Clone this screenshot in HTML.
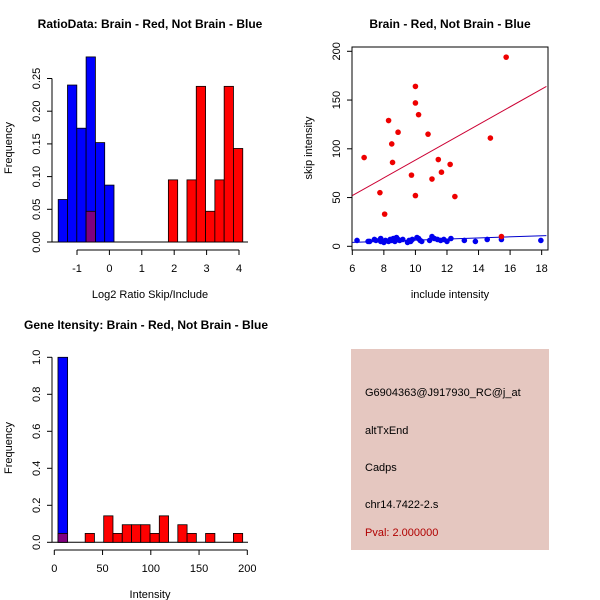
<!DOCTYPE html>
<html><head><meta charset="utf-8"><style>
body{margin:0;background:#fff}
svg{display:block;font-family:"Liberation Sans",sans-serif}
</style></head><body>
<svg id="c" width="600" height="600" xmlns="http://www.w3.org/2000/svg">
<rect width="600" height="600" fill="#fff"/>
<text x="150" y="28" font-size="12" font-weight="bold" text-anchor="middle">RatioData: Brain - Red, Not Brain - Blue</text>
<text x="450" y="28" font-size="12" font-weight="bold" text-anchor="middle">Brain - Red, Not Brain - Blue</text>
<text x="146" y="329" font-size="12" font-weight="bold" text-anchor="middle">Gene Itensity: Brain - Red, Not Brain - Blue</text>
<g id="p1"></g>
<g id="p2"></g>
<g id="p3"></g>
<g>
<rect x="351" y="349" width="198" height="201" fill="#e5c7c0"/>
<g font-size="11">
<text x="365" y="396">G6904363@J917930_RC@j_at</text>
<text x="365" y="434">altTxEnd</text>
<text x="365" y="471">Cadps</text>
<text x="365" y="508">chr14.7422-2.s</text>
<text x="365" y="536" fill="#b00000">Pval: 2.000000</text>
</g></g>
</svg>
<script>
// Panel 1 data
const ratioBlueStart = -1.58, ratioBinWidth = 0.287;
const ratioBlue = [0.065,0.24,0.174,0.283,0.152,0.087];
const ratioRedStart = 1.82;
const ratioRed = [0.095,0,0.095,0.238,0.047,0.095,0.238,0.143];
const ratioPurpleBin = 3, ratioPurple = 0.047;
const ratioXTicks = [-1,0,1,2,3,4];
const ratioYTicks = ["0.00","0.05","0.10","0.15","0.20","0.25"];
// Panel 2 data
const redX = [6.75,7.75,8.05,8.3,8.5,8.55,8.9,9.75,10,10,10,10.2,10.8,11.05,11.45,11.65,12.2,12.5,14.75,15.75,15.45];
const redY = [91,55,33,129,105,86,117,73,164,147,52,135,115,69,89,76,84,51,111,194,10];
const blueX = [6.3,7,7.1,7.4,7.5,7.8,7.8,8,8.1,8.3,8.4,8.5,8.6,8.7,8.8,8.9,9,9.2,9.5,9.6,9.7,9.8,10.1,10.2,10.3,10.4,10.9,11.05,11.2,11.4,11.6,11.8,12,12.25,13.1,13.8,14.55,15.45,17.95];
const blueY = [6,5,5,7,6,8,5,4,6,5,7,6,8,5,9,7,6,7,4,6,5,7,9,8,6,5,6,10,8,7,6,7,5,8,6,5,7,7,6];
const redLine = [[6,52],[18.3,164]];
const blueLine = [[6,4],[18.3,11]];
const scatXTicks = [6,8,10,12,14,16,18];
const scatYTicks = [0,50,100,150,200];
// Panel 3 data
const intBlueStart = 3.8, intBlueWidth = 10, intBlue = [1.0], intPurple = 0.048;
const intRedStart = 32, intRedWidth = 9.6;
const intRed = [0.048,0,0.143,0.048,0.095,0.095,0.095,0.048,0.143,0,0.095,0.048,0,0.048,0,0,0.048];
const intXTicks = [0,50,100,150,200];
const intYTicks = ["0.0","0.2","0.4","0.6","0.8","1.0"];

const NS="http://www.w3.org/2000/svg";
function mk(p,t,a){const e=document.createElementNS(NS,t);for(const k in a)e.setAttribute(k,a[k]);p.appendChild(e);return e;}
function lbl(p,x,y,s,rot,anchor){const t=mk(p,'text',{x:x,y:y,'font-size':11,'text-anchor':anchor||'middle'});if(rot)t.setAttribute('transform',`rotate(-90 ${x} ${y})`);t.textContent=s;return t;}

// Panel 1
(function(){
const g=document.getElementById('p1');
const X=v=>109.4+v*32.4, Y=v=>242-v*654;
mk(g,'line',{x1:52,x2:248,y1:242,y2:242,stroke:'#000'});
ratioBlue.forEach((h,i)=>{const x0=X(ratioBlueStart+i*ratioBinWidth),x1=X(ratioBlueStart+(i+1)*ratioBinWidth);
const r=mk(g,'rect',{x:x0,y:Y(h),width:x1-x0,height:242-Y(h),fill:'#0000ff',stroke:'#000','stroke-width':0.8});
});
ratioRed.forEach((h,i)=>{if(!h)return;const x0=X(ratioRedStart+i*ratioBinWidth),x1=X(ratioRedStart+(i+1)*ratioBinWidth);
const r=mk(g,'rect',{x:x0,y:Y(h),width:x1-x0,height:242-Y(h),fill:'#ff0000',stroke:'#000','stroke-width':0.8});
});
{const x0=X(ratioBlueStart+ratioPurpleBin*ratioBinWidth),x1=X(ratioBlueStart+(ratioPurpleBin+1)*ratioBinWidth);
const r=mk(g,'rect',{x:x0,y:Y(ratioPurple),width:x1-x0,height:242-Y(ratioPurple),fill:'#800080',stroke:'#000','stroke-width':0.8});
}
mk(g,'line',{x1:X(ratioXTicks[0]),x2:X(ratioXTicks[ratioXTicks.length-1]),y1:250,y2:250,stroke:'#000'});
ratioXTicks.forEach(v=>{mk(g,'line',{x1:X(v),x2:X(v),y1:250,y2:255,stroke:'#000'});lbl(g,X(v),272,String(v));});
mk(g,'line',{x1:52,x2:52,y1:Y(0),y2:Y(0.25),stroke:'#000'});
ratioYTicks.forEach(s=>{const y=Y(parseFloat(s));mk(g,'line',{x1:47,x2:52,y1:y,y2:y,stroke:'#000'});lbl(g,40,y,s,true);});
lbl(g,150,298,'Log2 Ratio Skip/Include');
lbl(g,12,148,'Frequency',true);
})();

// Panel 2
(function(){
const g=document.getElementById('p2');
const X=v=>352.3+(v-6)*15.78, Y=v=>246.3-v*0.975;
mk(g,'rect',{x:352,y:47,width:196,height:203,fill:'none',stroke:'#000'});
const cp=mk(g,'clipPath',{id:'cp2'});mk(cp,'rect',{x:352,y:47,width:196,height:203});
const l1=mk(g,'line',{x1:X(redLine[0][0]),y1:Y(redLine[0][1]),x2:X(redLine[1][0]),y2:Y(redLine[1][1]),stroke:'#cc0033','clip-path':'url(#cp2)'});

const l2=mk(g,'line',{x1:X(blueLine[0][0]),y1:Y(blueLine[0][1]),x2:X(blueLine[1][0]),y2:Y(blueLine[1][1]),stroke:'#0000cc','clip-path':'url(#cp2)'});

blueX.forEach((x,i)=>{const c=mk(g,'circle',{cx:X(x),cy:Y(blueY[i]),r:2.8,fill:'#0000ee'});
});
redX.forEach((x,i)=>{const c=mk(g,'circle',{cx:X(x),cy:Y(redY[i]),r:2.8,fill:'#ee0000'});
});
scatXTicks.forEach(v=>{mk(g,'line',{x1:X(v),x2:X(v),y1:250,y2:255,stroke:'#000'});lbl(g,X(v),272,String(v));});
scatYTicks.forEach(v=>{mk(g,'line',{x1:347,x2:352,y1:Y(v),y2:Y(v),stroke:'#000'});lbl(g,340,Y(v),String(v),true);});
lbl(g,450,298,'include intensity');
lbl(g,312,148,'skip intensity',true);
})();

// Panel 3
(function(){
const g=document.getElementById('p3');
const X=v=>54.3+v*0.965, Y=v=>542.3-v*185;
mk(g,'line',{x1:52,x2:248,y1:542.3,y2:542.3,stroke:'#000'});
intBlue.forEach((h,i)=>{const x0=X(intBlueStart+i*intBlueWidth),x1=X(intBlueStart+(i+1)*intBlueWidth);
const r=mk(g,'rect',{x:x0,y:Y(h),width:x1-x0,height:542.3-Y(h),fill:'#0000ff',stroke:'#000','stroke-width':0.8});

const p=mk(g,'rect',{x:x0,y:Y(intPurple),width:x1-x0,height:542.3-Y(intPurple),fill:'#800080',stroke:'#000','stroke-width':0.8});
});
intRed.forEach((h,i)=>{if(!h)return;const x0=X(intRedStart+i*intRedWidth),x1=X(intRedStart+(i+1)*intRedWidth);
const r=mk(g,'rect',{x:x0,y:Y(h),width:x1-x0,height:542.3-Y(h),fill:'#ff0000',stroke:'#000','stroke-width':0.8});
});
mk(g,'line',{x1:X(0),x2:X(200),y1:550,y2:550,stroke:'#000'});
intXTicks.forEach(v=>{mk(g,'line',{x1:X(v),x2:X(v),y1:550,y2:555,stroke:'#000'});lbl(g,X(v),572,String(v));});
mk(g,'line',{x1:52,x2:52,y1:Y(0),y2:Y(1),stroke:'#000'});
intYTicks.forEach(s=>{const y=Y(parseFloat(s));mk(g,'line',{x1:47,x2:52,y1:y,y2:y,stroke:'#000'});lbl(g,40,y,s,true);});
lbl(g,150,598,'Intensity');
lbl(g,12,448,'Frequency',true);
})();
</script>
</body></html>
